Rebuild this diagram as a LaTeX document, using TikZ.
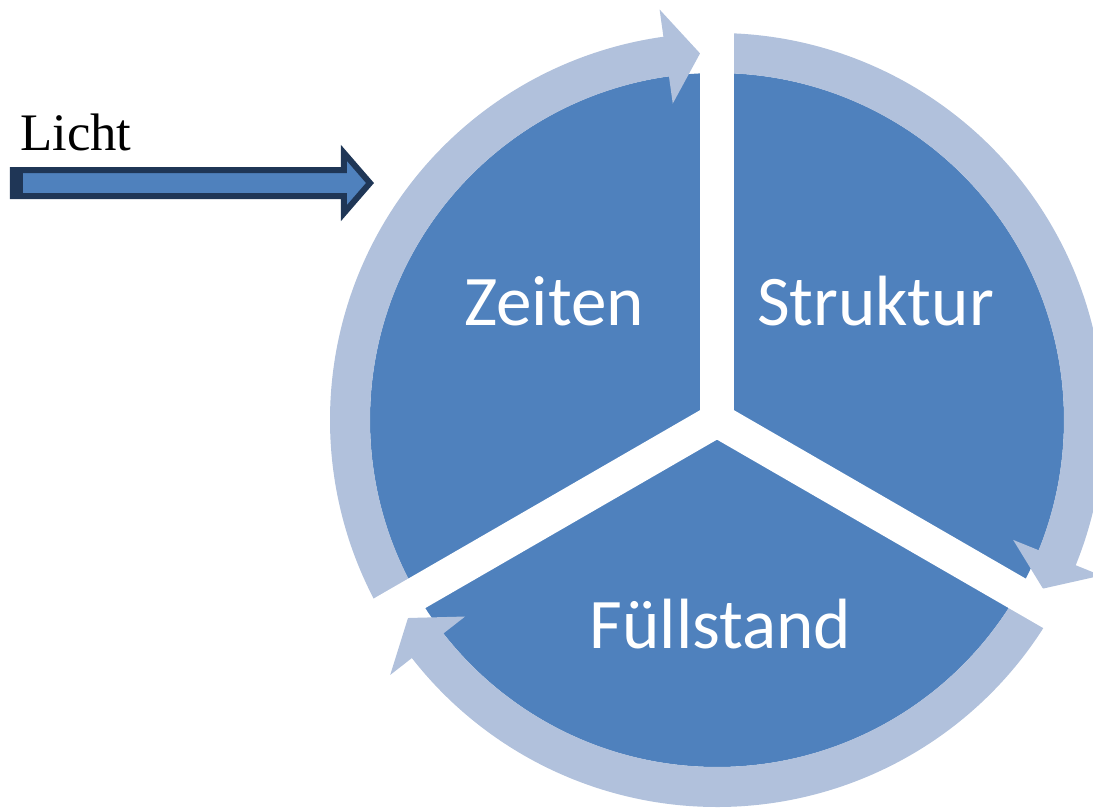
\documentclass[tikz,border=0pt]{standalone}
\usepackage{fontspec}
\setmainfont{Liberation Serif}
\newfontfamily\segfont{Carlito}
\definecolor{segblue}{RGB}{79,129,189}
\definecolor{ringblue}{RGB}{177,193,220}
\definecolor{navy}{RGB}{31,54,86}
\begin{document}
\begin{tikzpicture}[seg/.style={font=\segfont\fontsize{40.5}{44}\selectfont,text=white,anchor=base,inner sep=0pt}]
        \useasboundingbox (-14.34,-7.76) rectangle (7.52,8.4);
        \fill[segblue] (0,0) circle[radius=6.94];
        \foreach \s/\e in {210/97.96,90/-22.04,-30/-142.04}
          \fill[ringblue] (\s:7.74) arc[start angle=\s,end angle=\e,radius=7.74] -- (\e:8.29) -- ({\e-5.31}:7.34) -- (\e:6.39) -- (\e:6.94) arc[start angle=\e,end angle=\s,radius=6.94] -- cycle;
        \foreach \a in {90,210,330}
          \draw[white,line width=0.68cm] (0,0) -- (\a:8.6);
        \node[seg] (Zeiten) at (-3.26,1.90) {Zeiten};
        \node[seg] (Struktur) at (3.17,1.90) {Struktur};
        \node[seg] (Fuellstand) at (0.07,-4.56) {Füllstand};
        \node[anchor=base west,inner sep=0pt,font=\fontsize{30}{33}\selectfont] (Licht) at (-13.94,5.40) {Licht};
        \draw[navy,fill=segblue,line width=0.12cm] (-14.08,5.0) -- (-7.46,5.0) -- (-7.46,5.34) -- (-6.94,4.74) -- (-7.46,4.14) -- (-7.46,4.48) -- (-14.08,4.48) -- cycle;
        \fill[navy] (-14.14,4.42) rectangle (-13.88,5.06);
      \end{tikzpicture}
\end{document}
